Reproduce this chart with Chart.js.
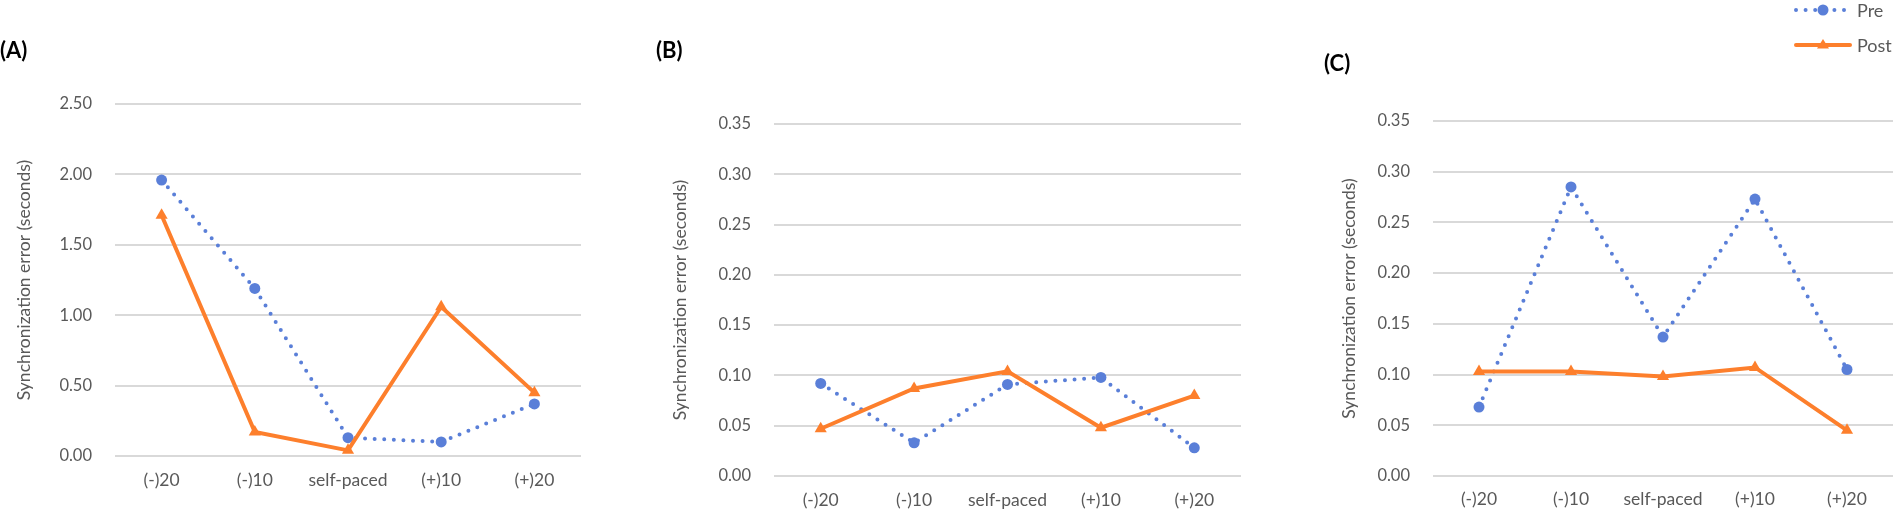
<!DOCTYPE html>
<html><head><meta charset="utf-8">
<script src="https://cdn.jsdelivr.net/npm/chart.js@4.4.1/dist/chart.umd.min.js"></script>
<style>
html,body{margin:0;padding:0;background:#fff;}
body{width:1900px;height:514px;overflow:hidden;position:relative;font-family:Lato,"Open Sans",sans-serif;}
canvas{position:absolute;top:0;}
.ptitle{position:absolute;font-weight:bold;font-size:22px;line-height:22px;color:#000;}
.leg{position:absolute;left:1792px;height:20px;display:flex;align-items:center;font-size:18px;color:#595959;}
.leg svg{margin-right:5px;}
</style></head><body>
<canvas id="cA" width="600" height="514" style="left:0px"></canvas>
<canvas id="cB" width="620" height="514" style="left:640px"></canvas>
<canvas id="cC" width="620" height="514" style="left:1280px"></canvas>
<div class="ptitle" style="left:0px;top:39px">(A)</div>
<div class="ptitle" style="left:656px;top:39px">(B)</div>
<div class="ptitle" style="left:1324px;top:52px">(C)</div>
<div class="leg" style="top:0px">
  <svg width="60" height="20"><line x1="4" y1="10" x2="56" y2="10" stroke="#5a7fd8" stroke-width="4" stroke-linecap="round" stroke-dasharray="0 9.6"/><circle cx="31" cy="10" r="5.5" fill="#5a7fd8"/></svg><span>Pre</span>
</div>
<div class="leg" style="top:35px">
  <svg width="60" height="20"><line x1="4" y1="10" x2="58" y2="10" stroke="#fd7f2c" stroke-width="4" stroke-linecap="round"/><polygon points="31,4 37,13.5 25,13.5" fill="#fd7f2c"/></svg><span>Post</span>
</div>
<script>
// ---- data ----
const categories = ['(-)20', '(-)10', 'self-paced', '(+)10', '(+)20'];
const seriesNames = ['Pre', 'Post'];
const panelTitles = ['(A)', '(B)', '(C)'];
const yTitle = 'Synchronization error (seconds)';

const preA  = [1.96, 1.19, 0.13, 0.10, 0.37];
const postA = [1.71, 0.17, 0.04, 1.06, 0.45];
const preB  = [0.092, 0.033, 0.091, 0.098, 0.028];
const postB = [0.047, 0.087, 0.104, 0.048, 0.080];
const preC  = [0.068, 0.285, 0.137, 0.273, 0.105];
const postC = [0.103, 0.103, 0.098, 0.107, 0.045];

const yMaxA = 2.5,  yStepA = 0.5;
const yMaxBC = 0.35, yStepBC = 0.05;

// ---- styles ----
const BLUE = '#5a7fd8', ORANGE = '#fd7f2c', TXT = '#595959', GRID = '#d9d9d9';
const FONT = 'Lato, "Open Sans", sans-serif';

function makeChart(id, pre, post, yMax, yStep, geo) {
  return new Chart(document.getElementById(id), {
    type: 'line',
    data: {
      labels: categories,
      datasets: [
        { label: seriesNames[0], data: pre, order: 1,
          borderColor: BLUE, backgroundColor: BLUE, borderWidth: 4,
          borderDash: [0, 9.6], borderCapStyle: 'round',
          pointStyle: 'circle', pointRadius: 5.5, pointBorderWidth: 0,
          pointBackgroundColor: BLUE, tension: 0, fill: false },
        { label: seriesNames[1], data: post, order: 0,
          borderColor: ORANGE, backgroundColor: ORANGE, borderWidth: 4,
          borderJoinStyle: 'miter',
          pointStyle: 'triangle', pointRadius: 7, pointBorderWidth: 0,
          pointBackgroundColor: ORANGE, tension: 0, fill: false }
      ]
    },
    options: {
      responsive: false, animation: false, devicePixelRatio: 1,
      layout: { padding: { top: geo.padTop, right: geo.padRight, left: 0, bottom: 0 } },
      plugins: { legend: { display: false }, tooltip: { enabled: false } },
      scales: {
        x: {
          offset: true,
          grid: { display: false, drawTicks: false },
          border: { display: false },
          ticks: { color: TXT, font: { family: FONT, size: 17.5 }, padding: geo.xPad, maxRotation: 0, autoSkip: false },
          afterFit: s => { s.height = geo.xAxisHeight; }
        },
        y: {
          min: 0, max: yMax,
          grid: { color: GRID, lineWidth: 2, drawTicks: false },
          border: { display: false },
          ticks: { stepSize: yStep, color: TXT, font: { family: FONT, size: 16.5 }, padding: 23,
                   callback: v => Number(v).toFixed(2) },
          title: { display: true, text: yTitle, color: TXT, font: { family: FONT, size: 17.5 },
                   padding: { top: geo.titlePad, bottom: 0 } },
          afterFit: s => { s.width = geo.yAxisWidth; }
        }
      }
    }
  });
}

makeChart('cA', preA, postA, yMaxA, yStepA,
  { padTop: 104, padRight: 19, xAxisHeight: 58, yAxisWidth: 115, titlePad: 13.5, xPad: 14 });
makeChart('cB', preB, postB, yMaxBC, yStepBC,
  { padTop: 124, padRight: 19, xAxisHeight: 38, yAxisWidth: 134, titlePad: 30, xPad: 14 });
makeChart('cC', preC, postC, yMaxBC, yStepBC,
  { padTop: 121, padRight: 1, xAxisHeight: 38, yAxisWidth: 153, titlePad: 58.5, xPad: 13 });
</script>
</body></html>
